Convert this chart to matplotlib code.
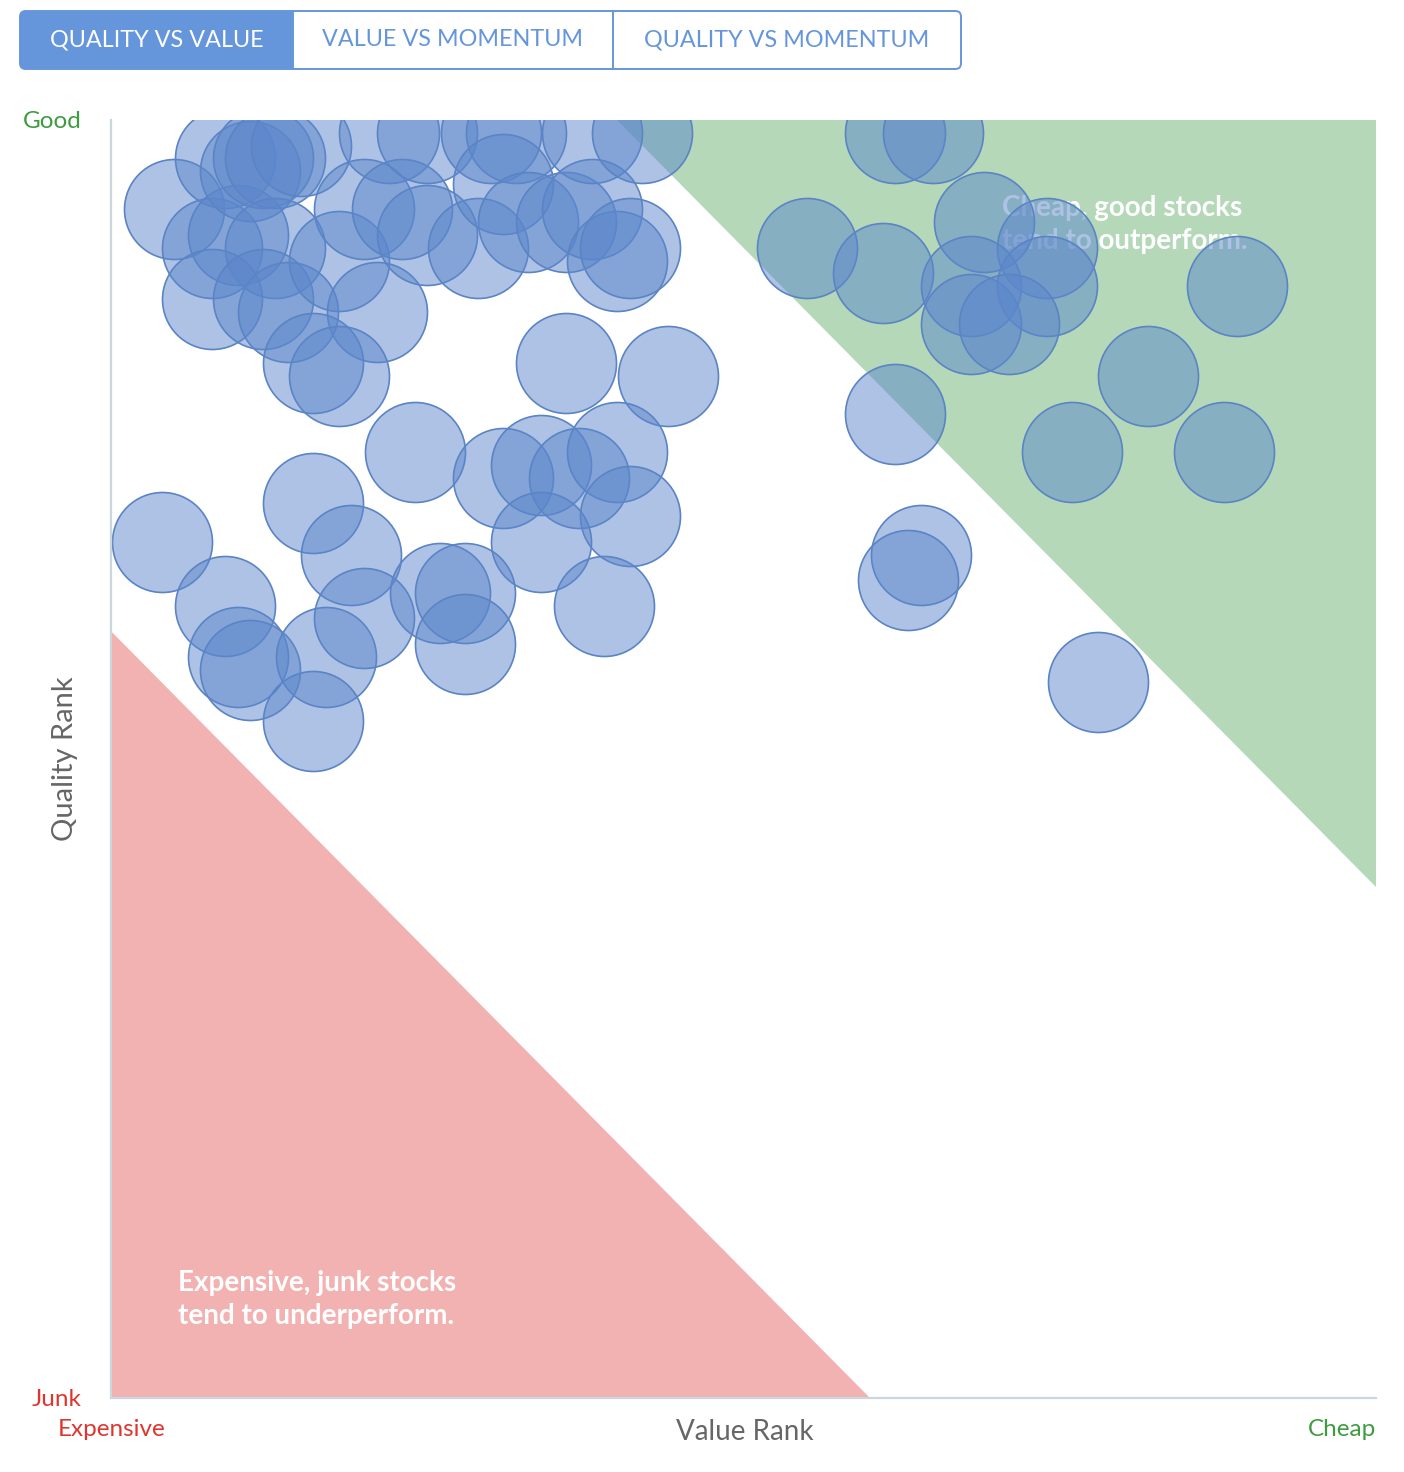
import matplotlib
matplotlib.use("Agg")
import matplotlib.pyplot as plt
from matplotlib.patches import Polygon, FancyBboxPatch, Rectangle

# ---------------- data ----------------
value_rank = [5, 9, 8, 10, 11, 12, 13, 15, 13, 8, 12, 14, 18, 20, 21, 16, 18,
              22, 23, 25, 25, 29, 30, 32, 31, 33, 36, 38, 38, 40, 41, 42, 36, 44,
              24, 31, 34, 37, 40, 41, 34, 39, 16, 19, 4, 9, 10, 11, 17, 20, 26, 28,
              28, 16,
              62, 65, 55, 61, 69, 74, 68, 74, 68, 71, 89, 82, 62, 76, 88, 64, 63, 78]
quality_rank = [93, 97, 90, 91, 96, 97, 97, 98, 90, 86, 86, 85, 89, 93, 85, 81, 80,
                99, 93, 91, 99, 90, 99, 99, 95, 92, 92, 99, 93, 89, 90, 99, 81, 80,
                74, 72, 73, 72, 74, 69, 67, 62, 70, 66, 67, 62, 58, 57, 58, 61, 63, 63,
                59, 53,
                99, 99, 90, 88, 92, 90, 87, 87, 84, 84, 87, 80, 77, 74, 74, 66, 64, 56]

good_zone_x = [40, 100, 100]
good_zone_y = [100, 100, 40]
bad_zone_x = [0, 0, 60]
bad_zone_y = [0, 60, 0]

tabs = ["QUALITY VS VALUE", "VALUE VS MOMENTUM", "QUALITY VS MOMENTUM"]

# ---------------- figure ----------------
W, H = 1404, 1472
fig = plt.figure(figsize=(W / 100, H / 100), dpi=100)
plt.rcParams['font.family'] = ['Lato', 'DejaVu Sans']

def fx(px):
    return px / W

def fy(py):
    return 1 - py / H

ax = fig.add_axes([fx(111), fy(1398), fx(1376) - fx(111), fy(120) - fy(1398)])
ax.set_xlim(0, 100)
ax.set_ylim(0, 100)
ax.set_xticks([])
ax.set_yticks([])
for s in ['top', 'right']:
    ax.spines[s].set_visible(False)
for s in ['left', 'bottom']:
    ax.spines[s].set_color('#ccd6dd')
    ax.spines[s].set_linewidth(1.6)
    ax.spines[s].set_zorder(5)

ax.add_patch(Polygon(list(zip(good_zone_x, good_zone_y)), closed=True,
                     facecolor='#b4d8b8', edgecolor='none', zorder=1))
ax.add_patch(Polygon(list(zip(bad_zone_x, bad_zone_y)), closed=True,
                     facecolor='#f3b2b2', edgecolor='none', zorder=1))

ax.text(70.4, 91.8, "Cheap, good stocks\ntend to outperform.", color='white',
        fontsize=20, fontweight='bold', ha='left', va='center',
        linespacing=1.35, zorder=2)
ax.text(5.3, 7.7, "Expensive, junk stocks\ntend to underperform.", color='white',
        fontsize=20, fontweight='bold', ha='left', va='center',
        linespacing=1.35, zorder=2)

ax.scatter(value_rank, quality_rank, s=5184, facecolor=(0.36, 0.53, 0.80, 0.5),
           edgecolor='#5b84c4', linewidth=1.2, zorder=3)

# axis labels
fig.text(fx(52), fy(122), "Good", color='#3d9c3f', fontsize=17.5, ha='center', va='center')
fig.text(fx(57), fy(1399), "Junk", color='#e0352f', fontsize=17.5, ha='center', va='center')
fig.text(fx(112), fy(1430), "Expensive", color='#e0352f', fontsize=17.5, ha='center', va='center')
fig.text(fx(1342), fy(1430), "Cheap", color='#3d9c3f', fontsize=17.5, ha='center', va='center')
fig.text(fx(745), fy(1432), "Value Rank", color='#666666', fontsize=20, ha='center', va='center')
fig.text(fx(65), fy(759), "Quality Rank", color='#666666', fontsize=21, ha='center',
         va='center', rotation=90)

# tabs
blue = '#6596dc'
outer = FancyBboxPatch((fx(20), fy(69)), fx(961) - fx(20), fy(11) - fy(69),
                       boxstyle="round,pad=0,rounding_size=0.004",
                       transform=fig.transFigure, facecolor='white',
                       edgecolor=blue, linewidth=1.4)
fig.add_artist(outer)
fill = Rectangle((fx(20), fy(69)), fx(293) - fx(20), fy(11) - fy(69),
                 transform=fig.transFigure, facecolor=blue, edgecolor='none')
fig.add_artist(fill)
fill.set_clip_path(outer)
for xd in [293, 613]:
    fig.add_artist(plt.Line2D([fx(xd), fx(xd)], [fy(69), fy(11)],
                              transform=fig.transFigure, color=blue, linewidth=1.4))
tab_centers = [157, 453, 787]
for i, (t, cx) in enumerate(zip(tabs, tab_centers)):
    fig.text(fx(cx), fy(40), t, color='white' if i == 0 else blue,
             fontsize=16.8, ha='center', va='center')

fig.savefig("out.png", dpi=100)
